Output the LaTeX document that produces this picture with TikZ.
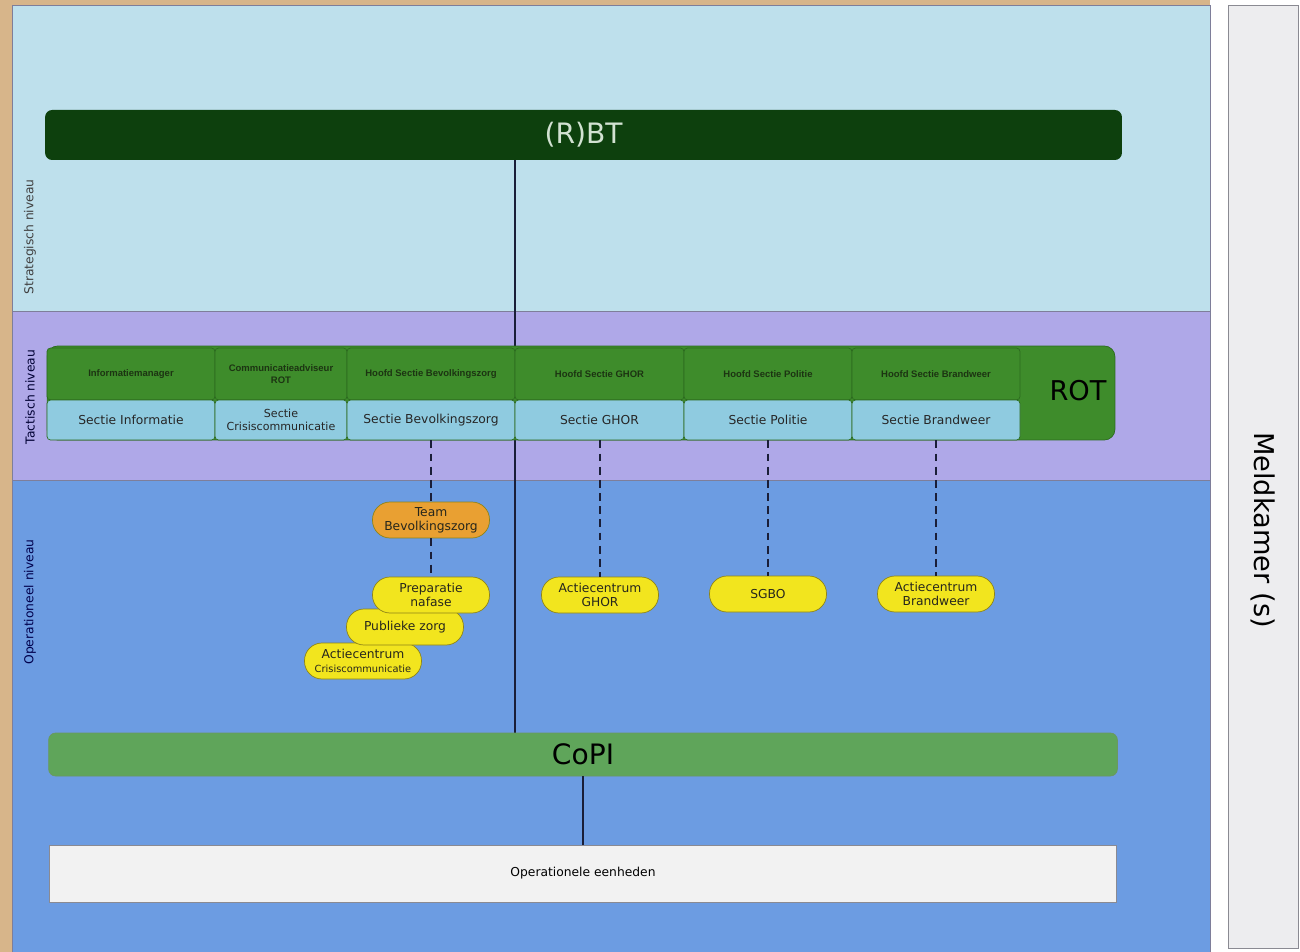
\documentclass[tikz,border=0pt]{standalone}
\usepackage{fontspec}
\setmainfont{DejaVu Sans}
\newfontfamily\headfont{Liberation Sans}
\usepackage{tikz}
\usetikzlibrary{backgrounds}

\definecolor{bgtan}{HTML}{D7B58A}
\definecolor{stratblue}{HTML}{BEE0EC}
\definecolor{tactlilac}{HTML}{AFA8E8}
\definecolor{opsblue}{HTML}{6C9CE2}
\definecolor{rbtgreen}{HTML}{0D400D}
\definecolor{rbttext}{HTML}{D2E2D2}
\definecolor{rotgreen}{HTML}{3E8C2B}
\definecolor{rotdark}{HTML}{2C6A1F}
\definecolor{headtext}{HTML}{1C3412}
\definecolor{sectblue}{HTML}{8FCBE0}
\definecolor{copigreen}{HTML}{5FA55A}
\definecolor{opsyellow}{HTML}{F2E51E}
\definecolor{opsorange}{HTML}{E9A032}
\definecolor{opsborder}{HTML}{8E8418}
\definecolor{opstext}{HTML}{26261C}
\definecolor{panelwhite}{HTML}{EDEDEF}
\definecolor{panelgrey}{HTML}{8A8A92}
\definecolor{linedark}{HTML}{1A1E38}
\definecolor{bandline}{HTML}{7E7E9A}

\tikzset{
    bar/.style={rounded corners=4pt, inner sep=0pt},
    headbox/.style={draw=rotdark, fill=rotgreen, minimum height=1.04cm, inner sep=1pt,
        rounded corners=2pt, align=center, text=headtext,
        font=\headfont\bfseries\fontsize{5.4}{6.6}\selectfont},
    sectbox/.style={draw=rotdark, fill=sectblue, minimum height=0.8cm, inner sep=1pt,
        rounded corners=2pt, align=center, text=black!85, font=\fontsize{7}{8}\selectfont},
    opsbox/.style={draw=opsborder, fill=opsyellow, minimum width=2.34cm, minimum height=0.72cm,
        inner sep=0pt, rounded corners=3.5mm, align=center, text=opstext,
        font=\fontsize{7}{8}\selectfont},
    levellabel/.style={rotate=90, font=\fontsize{7}{8}\selectfont},
    spine/.style={draw=linedark, line width=1.1pt},
    dashline/.style={spine, dash pattern=on 4.5pt off 3pt},
}

\begin{document}
\begin{tikzpicture}[x=0.02cm, y=-0.02cm]
    \useasboundingbox (0,0) rectangle (1300,952);

    % strategisch
    \node[bar, fill=rbtgreen, text=rbttext, minimum width=21.54cm, minimum height=1cm,
          font=\fontsize{16}{18}\selectfont]                       (rbt)      at (583.5,135)  {(R)BT};

    % tactisch
    \node[bar, draw=rotdark, fill=rotgreen, minimum width=21.36cm, minimum height=1.88cm,
          rounded corners=6pt]                                     (rot)      at (581,393)    {};
    \node[font=\fontsize{15.5}{17}\selectfont]                     (rotname)  at (1078,391)   {ROT};

    \node[headbox, minimum width=3.36cm]  (infohead)  at (131,374)    {Informatiemanager};
    \node[headbox, minimum width=2.64cm]  (commhead)  at (281,374)    {Communicatieadviseur\\ROT};
    \node[headbox, minimum width=3.36cm]  (bevhead)   at (431,374)    {Hoofd Sectie Bevolkingszorg};
    \node[headbox, minimum width=3.38cm]  (ghorhead)  at (599.5,374)  {Hoofd Sectie GHOR};
    \node[headbox, minimum width=3.36cm]  (polhead)   at (768,374)    {Hoofd Sectie Politie};
    \node[headbox, minimum width=3.36cm]  (brwhead)   at (936,374)    {Hoofd Sectie Brandweer};

    \node[sectbox, minimum width=3.36cm]  (infosec)   at (131,420)    {Sectie Informatie};
    \node[sectbox, minimum width=2.64cm,
          font=\fontsize{6.3}{7.4}\selectfont] (commsec) at (281,420) {Sectie\\Crisiscommunicatie};
    \node[sectbox, minimum width=3.36cm]  (bevsec)    at (431,420)    {Sectie Bevolkingszorg};
    \node[sectbox, minimum width=3.38cm]  (ghorsec)   at (599.5,420)  {Sectie GHOR};
    \node[sectbox, minimum width=3.36cm]  (polsec)    at (768,420)    {Sectie Politie};
    \node[sectbox, minimum width=3.36cm]  (brwsec)    at (936,420)    {Sectie Brandweer};

    % operationeel
    \node[opsbox, fill=opsorange]         (team)      at (431,520)    {Team\\Bevolkingszorg};
    \node[opsbox]                         (accris)    at (363,661)    {Actiecentrum\\{\fontsize{5.6}{6.6}\selectfont Crisiscommunicatie}};
    \node[opsbox]                         (pubzorg)   at (405,627)    {Publieke zorg};
    \node[opsbox]                         (prep)      at (431,595)    {Preparatie\\nafase};
    \node[opsbox]                         (acghor)    at (600,595)    {Actiecentrum\\GHOR};
    \node[opsbox]                         (sgbo)      at (768,594)    {SGBO};
    \node[opsbox]                         (acbrw)     at (936,594)    {Actiecentrum\\Brandweer};

    \node[bar, draw=rotdark!70, fill=copigreen, minimum width=21.38cm, minimum height=0.86cm,
          font=\fontsize{16}{18}\selectfont]                       (copi)     at (583,754.5)  {CoPI};
    \node[draw=panelgrey, fill=white!95!black, minimum width=21.34cm, minimum height=1.14cm,
          font=\fontsize{7}{8}\selectfont]                         (oe)       at (583,873.5)  {Operationele eenheden};

    % niveaus
    \node[levellabel, text=black!75]      (strat)     at (30,237)     {Strategisch niveau};
    \node[levellabel, text=black!80!blue] (tact)      at (30,397)     {Tactisch niveau};
    \node[levellabel, text=blue!30!black] (oper)      at (30,602)     {Operationeel niveau};

    % meldkamer
    \node[draw=panelgrey, fill=panelwhite, minimum width=1.4cm, minimum height=18.86cm] (meld) at (1263,476.5) {};
    \node[rotate=-90, font=\fontsize{15.5}{17}\selectfont]         (meldname) at (1263,530)   {Meldkamer (s)};

    \foreach \a/\b in {bevsec/team, team/prep, ghorsec/acghor, polsec/sgbo, brwsec/acbrw}{
        \draw[dashline] (\a.south -| \b) -- (\b);
        };
    \draw[spine] (copi) -- (oe);

    \begin{scope}[on background layer]
        \fill[bgtan] (0,0) rectangle (1300,952);
        \fill[white] (1210,0) rectangle (1300,952);
        \fill[stratblue]  (12,5)   rectangle (1210,311);
        \fill[tactlilac]  (12,311) rectangle (1210,480);
        \fill[opsblue]    (12,480) rectangle (1210,952);
        \draw[bandline] (12,952) -- (12,5) -- (1210,5) -- (1210,952);
        \draw[bandline] (12,311) -- (1210,311);
        \draw[bandline] (12,480) -- (1210,480);
        \draw[spine] (rbt.south -| bevsec.east) -- (copi.north -| bevsec.east);
    \end{scope}
\end{tikzpicture}
\end{document}
